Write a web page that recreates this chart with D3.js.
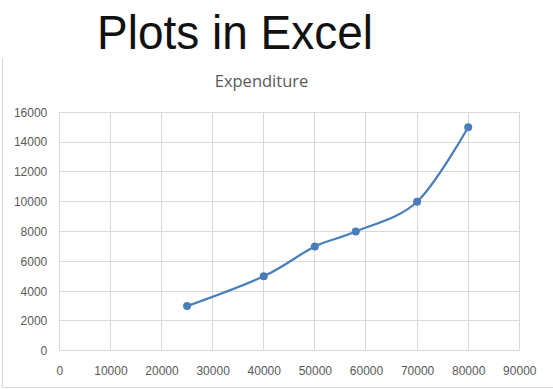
<!DOCTYPE html>
<html>
<head>
<meta charset="utf-8">
<script src="https://cdn.jsdelivr.net/npm/d3@7"></script>
<style>
    body { margin: 0; background: #fff; }
    svg { display: block; }
</style>
</head>
<body>
<div id="chart"></div>
<script>
// expenditure points
var xValues = [25000, 40000, 50000, 58000, 70000, 80000];
var yValues = [3000, 5000, 7000, 8000, 10000, 15000];
var xTicks = [0, 10000, 20000, 30000, 40000, 50000, 60000, 70000, 80000, 90000];
var yTicks = [0, 2000, 4000, 6000, 8000, 10000, 12000, 14000, 16000];

(function () {
    var width = 553, height = 389;
    var plot = {left: 59.3, right: 519.3, top: 112.3, bottom: 350.8};
    var gridColor = "#d9d9d9";
    var labelColor = "#595959";
    var lineColor = "#4a7ebb";

    var svg = d3.select("#chart").append("svg")
        .attr("width", width)
        .attr("height", height);

    var x = d3.scaleLinear().domain([0, 90000]).range([plot.left, plot.right]);
    var y = d3.scaleLinear().domain([0, 16000]).range([plot.bottom, plot.top]);

    // chart frame (only left and bottom edges show in the crop)
    svg.append("path")
        .attr("d", "M2.5,58V387.5H" + width)
        .attr("fill", "none")
        .attr("stroke", gridColor)
        .attr("stroke-width", 1);

    // big heading
    svg.append("text")
        .attr("x", 235)
        .attr("y", 49)
        .attr("text-anchor", "middle")
        .attr("font-family", "'Liberation Sans', Arial, sans-serif")
        .attr("font-size", 49)
        .attr("textLength", 276)
        .attr("lengthAdjust", "spacingAndGlyphs")
        .attr("fill", "#111")
        .text("Plots in Excel");

    svg.append("text")
        .attr("x", 261.5)
        .attr("y", 87)
        .attr("text-anchor", "middle")
        .attr("font-family", "'Open Sans', sans-serif")
        .attr("font-size", 16.5)
        .attr("fill", labelColor)
        .text("Expenditure");

    // gridlines
    var grid = svg.append("g").attr("stroke", gridColor).attr("stroke-width", 1).attr("shape-rendering", "crispEdges");
    grid.selectAll("line.h").data(yTicks).enter().append("line")
        .attr("class", "h")
        .attr("x1", plot.left).attr("x2", plot.right)
        .attr("y1", function (d) { return y(d); })
        .attr("y2", function (d) { return y(d); });
    grid.selectAll("line.v").data(xTicks).enter().append("line")
        .attr("class", "v")
        .attr("y1", plot.top).attr("y2", plot.bottom)
        .attr("x1", function (d) { return x(d); })
        .attr("x2", function (d) { return x(d); });

    // axes: labels only, gridlines above stand in for the axis lines
    var xAxis = svg.append("g")
        .attr("transform", "translate(0," + plot.bottom + ")")
        .call(d3.axisBottom(x).tickValues(xTicks).tickSize(0).tickPadding(16).tickFormat(d3.format("d")));
    var yAxis = svg.append("g")
        .attr("transform", "translate(" + plot.left + ",0)")
        .call(d3.axisLeft(y).tickValues(yTicks).tickSize(0).tickPadding(12).tickFormat(d3.format("d")));
    [xAxis, yAxis].forEach(function (ax) {
        ax.select(".domain").remove();
        ax.selectAll("text")
            .attr("fill", labelColor)
            .attr("font-family", "'Liberation Sans', Arial, sans-serif")
            .attr("font-size", 12);
    });

    var points = xValues.map(function (v, i) { return [v, yValues[i]]; });

    var line = d3.line()
        .x(function (d) { return x(d[0]); })
        .y(function (d) { return y(d[1]); })
        .curve(d3.curveCardinal.tension(0));

    svg.append("path")
        .datum(points)
        .attr("d", line)
        .attr("fill", "none")
        .attr("stroke", lineColor)
        .attr("stroke-width", 2.25)
        .attr("stroke-linecap", "round");

    svg.selectAll("circle.pt").data(points).enter().append("circle")
        .attr("class", "pt")
        .attr("cx", function (d) { return x(d[0]); })
        .attr("cy", function (d) { return y(d[1]); })
        .attr("r", 4)
        .attr("fill", lineColor);
})();
</script>
</body>
</html>
